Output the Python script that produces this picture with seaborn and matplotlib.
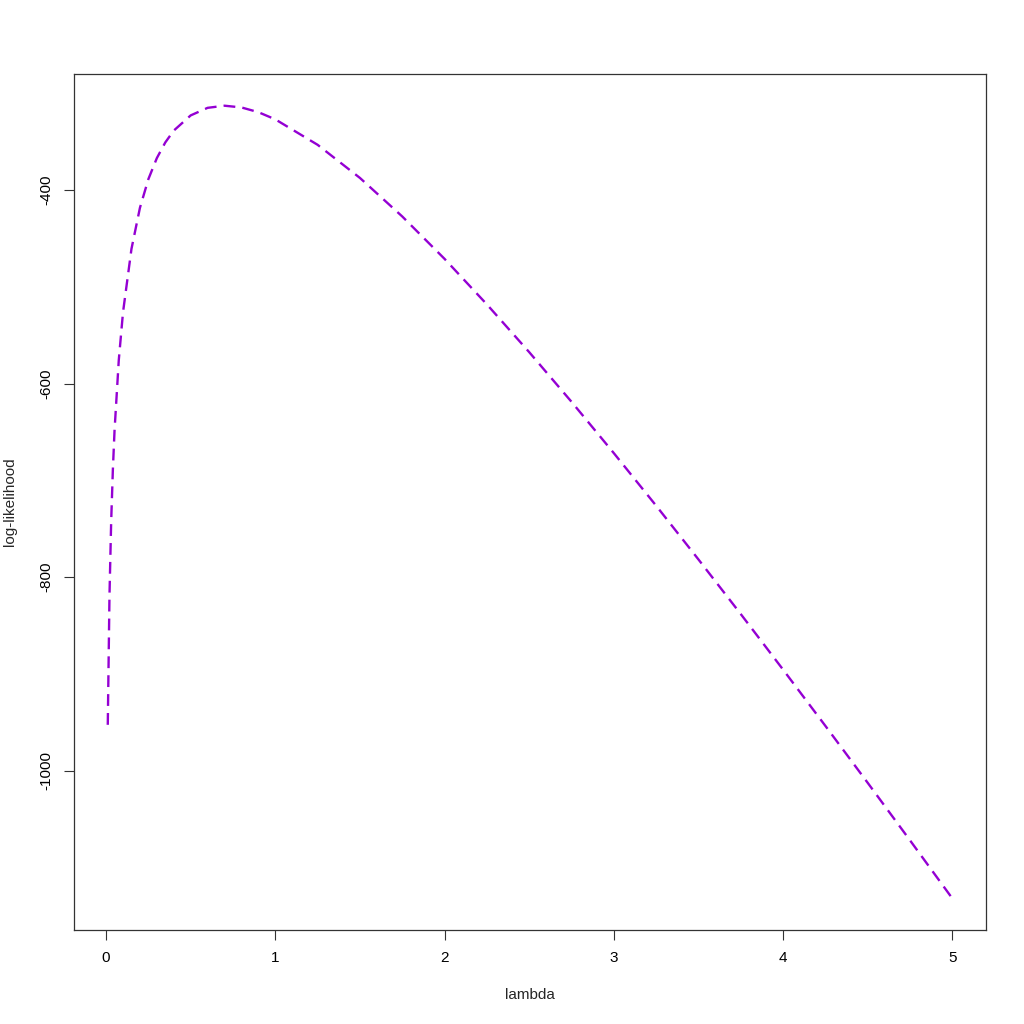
import matplotlib
matplotlib.use("Agg")
import matplotlib.pyplot as plt
import seaborn as sns
import pandas as pd

# values
lam = [0.01, 0.02, 0.03, 0.04, 0.05, 0.075, 0.1, 0.15, 0.2, 0.25, 0.3, 0.35,
       0.4, 0.5, 0.6, 0.7, 0.8, 0.9, 1.0, 1.25, 1.5, 1.75, 2.0, 2.25, 2.5,
       2.75, 3.0, 3.25, 3.5, 3.75, 4.0, 4.25, 4.5, 4.75, 5.0]
loglik = [-952.5, -819.4, -742.8, -689.2, -648.3, -575.8, -526.4, -460.9,
          -418.5, -388.8, -367.1, -350.9, -338.7, -323.0, -315.2, -313.0,
          -314.8, -319.7, -327.1, -353.4, -387.6, -427.4, -471.2, -518.2,
          -567.5, -618.8, -671.8, -726.1, -781.6, -838.0, -895.4, -953.5,
          -1012.3, -1071.7, -1131.7]
xticks = [0, 1, 2, 3, 4, 5]
yticks = [-1000, -800, -600, -400]

df = pd.DataFrame({"lambda": lam, "loglik": loglik})

sns.set_theme(style="ticks")
plt.rcParams["font.family"] = ["Liberation Sans", "DejaVu Sans"]

fig = plt.figure(figsize=(10.24, 10.24), dpi=100)
ax = fig.add_axes([74 / 1024, 94 / 1024, 912 / 1024, 856 / 1024])

sns.lineplot(data=df, x="lambda", y="loglik", ax=ax, color="#9400D3",
             linewidth=1.7, linestyle=(0, (5, 3)), sort=False)

# R-style 4% padding
xr = max(lam) - min(lam)
yr = max(loglik) - min(loglik)
ax.set_xlim(min(lam) - 0.04 * xr, max(lam) + 0.04 * xr)
ax.set_ylim(min(loglik) - 0.04 * yr, max(loglik) + 0.04 * yr)

ax.set_xticks(xticks)
ax.set_yticks(yticks)
ax.set_yticklabels([str(v) for v in yticks], rotation=90, va="center")
ax.tick_params(axis="both", direction="out", length=7, width=0.8,
               color="#333333", labelsize=11, labelcolor="black", pad=8)

for s in ax.spines.values():
    s.set_visible(True)
    s.set_color("#333333")
    s.set_linewidth(0.9)

ax.set_xlabel("lambda", fontsize=11)
ax.set_ylabel("log-likelihood", fontsize=11)
ax.xaxis.set_label_coords(0.5, -0.068)
ax.yaxis.set_label_coords(-0.062, 0.5)

fig.savefig("out.png", dpi=100, facecolor="white")
